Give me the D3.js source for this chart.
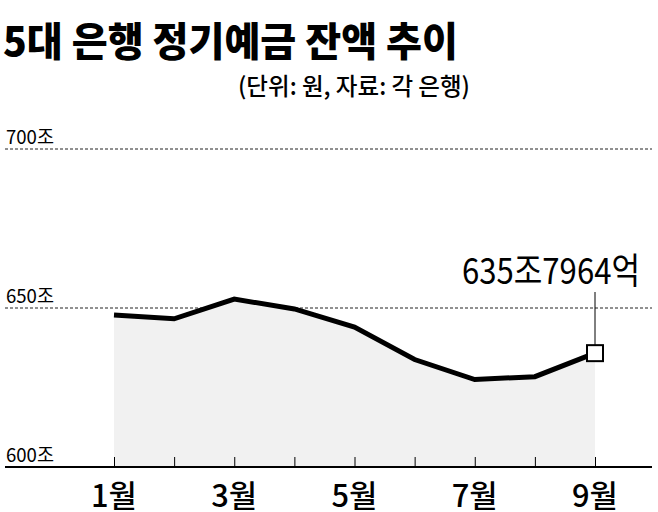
<!DOCTYPE html><html><head><meta charset="utf-8"><script src="https://cdn.jsdelivr.net/npm/d3@7"></script>
<style>body{margin:0;background:#fff}text{font-family:"Noto Sans CJK KR";}</style></head><body>
<svg id="c" width="658" height="512"></svg>
<script>
const months=["1월","2월","3월","4월","5월","6월","7월","8월","9월"];
const values=[647.8,646.6,652.8,649.7,644.0,633.8,627.5,628.4,635.8];
const yTicks=[600,650,700];
const yTickLabels=["600조","650조","700조"];
const svg=d3.select("#c");
const x=d3.scalePoint().domain(months).range([114,595]);
const y=d3.scaleLinear().domain([600,700]).range([467,149]);
svg.selectAll(".g").data(yTicks.slice(1)).join("line").attr("x1",5).attr("x2",652)
 .attr("y1",d=>y(d)).attr("y2",d=>y(d)).attr("stroke","#222").attr("stroke-dasharray","3,2").attr("stroke-width",1);
svg.selectAll(".yl").data(yTicks).join("text").attr("x",6).attr("y",d=>y(d)-5)
 .attr("font-size",19).attr("textLength",48).attr("lengthAdjust","spacingAndGlyphs").text((d,i)=>yTickLabels[i]);
svg.append("path").datum(values).attr("fill","#f1f1f1")
 .attr("d",d3.area().x((d,i)=>x(months[i])).y0(y(600)).y1(d=>y(d)));
const ax=svg.append("g").attr("transform",`translate(0,${y(600)})`)
 .call(d3.axisBottom(x).tickSize(-10).tickFormat(""));
ax.select(".domain").remove();
ax.selectAll("line").attr("stroke","#000");
svg.append("line").attr("x1",5).attr("x2",652).attr("y1",y(600)).attr("y2",y(600)).attr("stroke","#000").attr("stroke-width",2);
svg.selectAll(".xl").data(months.filter((d,i)=>i%2==0)).join("text").attr("x",d=>x(d)).attr("y",507)
 .attr("text-anchor","middle").attr("font-size",31).attr("textLength",46).attr("lengthAdjust","spacingAndGlyphs").attr("font-weight",500).text(d=>d);
svg.append("path").datum(values).attr("fill","none").attr("stroke","#000").attr("stroke-width",5)
 .attr("d",d3.line().x((d,i)=>x(months[i])).y(d=>y(d)));
const lx=x(months[8]), ly=y(values[8]);
svg.append("line").attr("x1",lx).attr("x2",lx).attr("y1",292).attr("y2",ly).attr("stroke","#000");
svg.append("rect").attr("x",lx-8).attr("y",ly-8).attr("width",16).attr("height",16).attr("fill","#fff").attr("stroke","#000").attr("stroke-width",2);
svg.append("text").attr("x",640).attr("y",284).attr("text-anchor","end").attr("font-size",36)
 .attr("textLength",178).attr("lengthAdjust","spacingAndGlyphs").text("635조7964억");
svg.append("text").attr("x",3).attr("y",56).attr("font-size",40).attr("font-weight",900)
 .attr("textLength",455).attr("lengthAdjust","spacingAndGlyphs").text("5대 은행 정기예금 잔액 추이");
svg.append("text").attr("x",470).attr("y",95).attr("text-anchor","end").attr("font-size",24).attr("font-weight",500)
 .attr("textLength",232).attr("lengthAdjust","spacingAndGlyphs").text("(단위: 원, 자료: 각 은행)");
</script></body></html>
